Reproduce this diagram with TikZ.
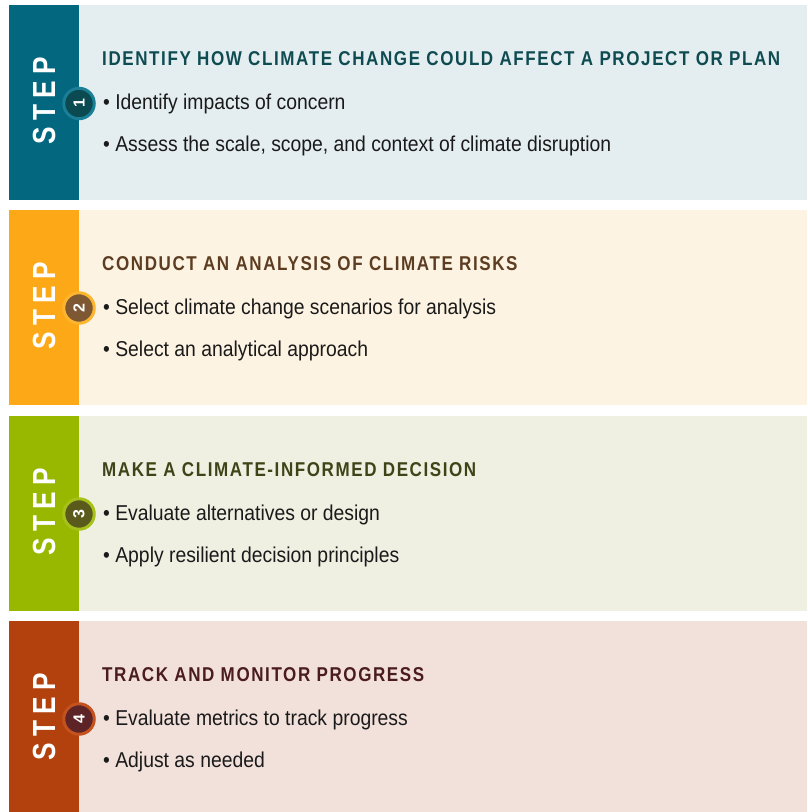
\documentclass[tikz,border=0pt]{standalone}
\usepackage{fontspec}
\setmainfont{Liberation Sans}
\newfontfamily\bodyf{Liberation Sans}[FakeStretch=0.9]
\newfontfamily\headf{Liberation Sans}[UprightFont=* Bold, FakeStretch=0.85, LetterSpace=8]
\newfontfamily\stepf{Liberation Sans}[UprightFont=* Bold, FakeStretch=0.82, LetterSpace=20]
\newfontfamily\digf{Liberation Sans}[UprightFont=* Bold]
\definecolor{barA}{HTML}{02677F}
\definecolor{bgA}{HTML}{E4EDF0}
\definecolor{headA}{HTML}{0E4C51}
\definecolor{circA}{HTML}{0B4A50}
\definecolor{ringA}{HTML}{1A7F96}
\definecolor{barB}{HTML}{FDA817}
\definecolor{bgB}{HTML}{FDF3E2}
\definecolor{headB}{HTML}{5C3D22}
\definecolor{circB}{HTML}{7D5832}
\definecolor{ringB}{HTML}{FDB52F}
\definecolor{barC}{HTML}{98B800}
\definecolor{bgC}{HTML}{EFF0E2}
\definecolor{headC}{HTML}{3E4417}
\definecolor{circC}{HTML}{5A5A1C}
\definecolor{ringC}{HTML}{A6C21A}
\definecolor{barD}{HTML}{B3410E}
\definecolor{bgD}{HTML}{F2E0DA}
\definecolor{headD}{HTML}{4A1C1E}
\definecolor{circD}{HTML}{5C2426}
\definecolor{ringD}{HTML}{C4521E}
\definecolor{bodytext}{HTML}{1A1A1A}
\begin{document}
\begin{tikzpicture}[x=1pt,y=-1pt,
  steplabel/.style={text=white,rotate=90,inner sep=0pt,anchor=center,font=\stepf\fontsize{32}{32}\selectfont},
  badge/.style={circle,line width=3pt,minimum size=30.5pt,inner sep=0pt,text=white,rotate=90,font=\digf\fontsize{16}{16}\selectfont},
  heading/.style={anchor=base west,inner sep=0pt,font=\headf\fontsize{20}{22}\selectfont},
  bulletline/.style={anchor=base west,inner sep=0pt,text=bodytext,font=\bodyf\fontsize{21.5}{24}\selectfont}]
\useasboundingbox (0,0) rectangle (807,812);
\fill[white] (0,0) rectangle (807,812);
% panel 1
\fill[bgA] (79,5) rectangle (807,200);
\fill[barA] (9,5) rectangle (79,200);
\node[steplabel] (s1) at (44,101) {STEP};
\node[badge,fill=circA,draw=ringA] (n1) at (79,103.5) {1};
\node[heading,text=headA] (h1) at (102,65) {IDENTIFY HOW CLIMATE CHANGE COULD AFFECT A PROJECT OR PLAN};
\node[bulletline] (b11) at (103,109) {• Identify impacts of concern};
\node[bulletline] (b12) at (103,151) {• Assess the scale, scope, and context of climate disruption};
% panel 2
\fill[bgB] (79,210) rectangle (807,405);
\fill[barB] (9,210) rectangle (79,405);
\node[steplabel] (s2) at (44,306) {STEP};
\node[badge,fill=circB,draw=ringB] (n2) at (79,308) {2};
\node[heading,text=headB] (h2) at (102,270) {CONDUCT AN ANALYSIS OF CLIMATE RISKS};
\node[bulletline] (b21) at (103,314) {• Select climate change scenarios for analysis};
\node[bulletline] (b22) at (103,356) {• Select an analytical approach};
% panel 3
\fill[bgC] (79,416) rectangle (807,611);
\fill[barC] (9,416) rectangle (79,611);
\node[steplabel] (s3) at (44,512) {STEP};
\node[badge,fill=circC,draw=ringC] (n3) at (79,514) {3};
\node[heading,text=headC] (h3) at (102,476) {MAKE A CLIMATE-INFORMED DECISION};
\node[bulletline] (b31) at (103,520) {• Evaluate alternatives or design};
\node[bulletline] (b32) at (103,562) {• Apply resilient decision principles};
% panel 4
\fill[bgD] (79,621) rectangle (807,812);
\fill[barD] (9,621) rectangle (79,812);
\node[steplabel] (s4) at (44,717) {STEP};
\node[badge,fill=circD,draw=ringD] (n4) at (79,719) {4};
\node[heading,text=headD] (h4) at (102,681) {TRACK AND MONITOR PROGRESS};
\node[bulletline] (b41) at (103,725) {• Evaluate metrics to track progress};
\node[bulletline] (b42) at (103,767) {• Adjust as needed};
\end{tikzpicture}
\end{document}
